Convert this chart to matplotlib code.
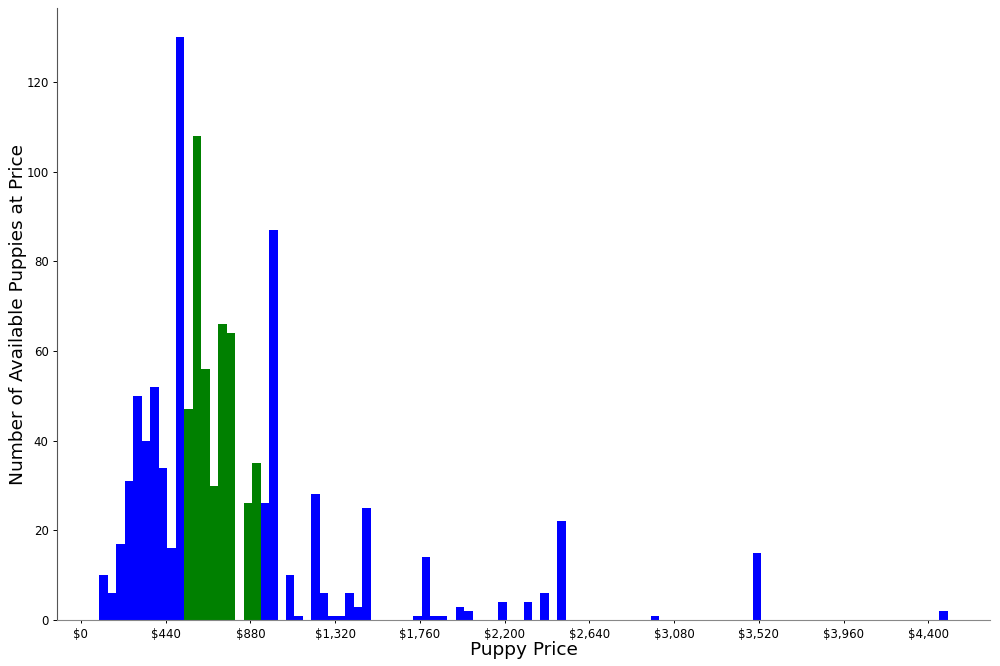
import matplotlib
matplotlib.use("Agg")
import matplotlib.pyplot as plt
import matplotlib.ticker as mticker
import numpy as np

#%% Data: 100 equal bins between the min and max price
price_min = 96
price_max = 4500
counts = [10, 6, 17, 31, 50, 40, 52, 34, 16, 130,
          47, 108, 56, 30, 66, 64, 0, 26, 35, 26,
          87, 0, 10, 1, 0, 28, 6, 1, 1, 6,
          3, 25, 0, 0, 0, 0, 0, 1, 14, 1,
          1, 0, 3, 2, 0, 0, 0, 4, 0, 0,
          4, 0, 6, 0, 22, 0, 0, 0, 0, 0,
          0, 0, 0, 0, 0, 1, 0, 0, 0, 0,
          0, 0, 0, 0, 0, 0, 0, 15, 0, 0,
          0, 0, 0, 0, 0, 0, 0, 0, 0, 0,
          0, 0, 0, 0, 0, 0, 0, 0, 0, 2]
# bins highlighted in green (price range of interest)
highlight_lo = 536
highlight_hi = 932
tick_values = np.arange(0, 4401, 440)

#%%
edges = np.linspace(price_min, price_max, len(counts) + 1)
centers = (edges[:-1] + edges[1:]) / 2

fig = plt.figure(figsize=(10, 6.66), dpi=100)
ax = fig.add_axes([0.057, 0.069, 0.933, 0.919])

n, bins, patches = ax.hist(centers, bins=edges, weights=counts, color='blue')
for patch, left in zip(patches, edges[:-1]):
    if highlight_lo - 1 <= left < highlight_hi - 1:
        patch.set_facecolor('green')

ax.spines['top'].set_visible(False)
ax.spines['right'].set_visible(False)
ax.spines['left'].set_color('#555555')
ax.spines['bottom'].set_color('#888888')

ax.set_xticks(tick_values)
ax.xaxis.set_major_formatter(mticker.FuncFormatter(lambda v, p: '${:,.0f}'.format(v)))
ax.tick_params(axis='x', length=2.5, width=0.7, labelsize=8.5, pad=3)
ax.tick_params(axis='y', length=3, width=0.7, labelsize=8.5, pad=3)

ax.set_xlabel('Puppy Price', fontsize=13.3, labelpad=0)
ax.set_ylabel('Number of Available Puppies at Price', fontsize=13.3)
ax.yaxis.set_label_coords(-0.032, 0.5)

plt.savefig("out.png", dpi=100)
